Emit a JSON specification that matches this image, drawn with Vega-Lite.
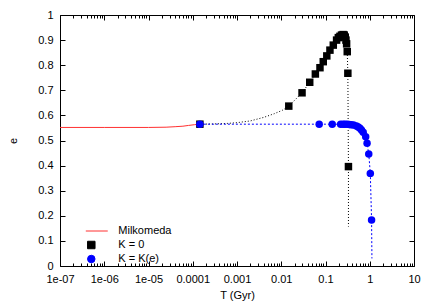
{
  "$schema": "https://vega.github.io/schema/vega-lite/v6.json",
  "width": 354,
  "height": 251,
  "autosize": {"type": "none"},
  "padding": {"left": 60, "top": 15, "right": 22, "bottom": 39},
  "config": {
    "font": "Liberation Sans",
    "view": {"stroke": "#000", "strokeWidth": 1},
    "axis": {"domain": false, "grid": false, "labelFont": "Liberation Sans", "labelFontSize": 11, "labelColor": "#000", "tickColor": "#000", "tickWidth": 1, "titleFont": "Liberation Sans", "titleFontSize": 11, "titleFontWeight": "normal", "titleColor": "#000"},
    "legend": {"labelFont": "Liberation Sans", "labelFontSize": 11, "labelColor": "#000", "symbolSize": 56, "symbolStrokeWidth": 1, "symbolOffset": 0, "labelOffset": 21.5, "clipHeight": 11, "rowPadding": 2, "padding": 0, "titlePadding": 0}
  },
  "resolve": {"axis": {"x": "independent", "y": "independent"}},
  "datasets": {
    "milk": [
      {"T": 1e-7, "e": 0.552, "series": "Milkomeda"},
      {"T": 1e-6, "e": 0.552, "series": "Milkomeda"},
      {"T": 1e-5, "e": 0.552, "series": "Milkomeda"},
      {"T": 2.5e-5, "e": 0.553, "series": "Milkomeda"},
      {"T": 4e-5, "e": 0.555, "series": "Milkomeda"},
      {"T": 6e-5, "e": 0.557, "series": "Milkomeda"},
      {"T": 8e-5, "e": 0.56, "series": "Milkomeda"},
      {"T": 1.1e-4, "e": 0.563, "series": "Milkomeda"},
      {"T": 1.45e-4, "e": 0.565, "series": "Milkomeda"}
    ],
    "k0line": [
      {"T": 1.45e-4, "e": 0.565, "series": "K = 0"},
      {"T": 3e-4, "e": 0.566, "series": "K = 0"},
      {"T": 6e-4, "e": 0.568, "series": "K = 0"},
      {"T": 1e-3, "e": 0.571, "series": "K = 0"},
      {"T": 2e-3, "e": 0.578, "series": "K = 0"},
      {"T": 4e-3, "e": 0.592, "series": "K = 0"},
      {"T": 7e-3, "e": 0.607, "series": "K = 0"},
      {"T": 0.0105, "e": 0.62, "series": "K = 0"},
      {"T": 0.0148, "e": 0.637, "series": "K = 0"},
      {"T": 0.0295, "e": 0.69, "series": "K = 0"},
      {"T": 0.044, "e": 0.732, "series": "K = 0"},
      {"T": 0.059, "e": 0.765, "series": "K = 0"},
      {"T": 0.075, "e": 0.79, "series": "K = 0"},
      {"T": 0.089, "e": 0.814, "series": "K = 0"},
      {"T": 0.107, "e": 0.837, "series": "K = 0"},
      {"T": 0.126, "e": 0.86, "series": "K = 0"},
      {"T": 0.15, "e": 0.88, "series": "K = 0"},
      {"T": 0.178, "e": 0.9, "series": "K = 0"},
      {"T": 0.212, "e": 0.915, "series": "K = 0"},
      {"T": 0.25, "e": 0.922, "series": "K = 0"},
      {"T": 0.28, "e": 0.912, "series": "K = 0"},
      {"T": 0.3, "e": 0.885, "series": "K = 0"},
      {"T": 0.31, "e": 0.854, "series": "K = 0"},
      {"T": 0.32, "e": 0.768, "series": "K = 0"},
      {"T": 0.33, "e": 0.396, "series": "K = 0"},
      {"T": 0.33, "e": 0.157, "series": "K = 0"}
    ],
    "keline": [
      {"T": 1.45e-4, "e": 0.565, "series": "K = K(e)"},
      {"T": 0.072, "e": 0.565, "series": "K = K(e)"},
      {"T": 0.142, "e": 0.565, "series": "K = K(e)"},
      {"T": 0.22, "e": 0.565, "series": "K = K(e)"},
      {"T": 0.276, "e": 0.565, "series": "K = K(e)"},
      {"T": 0.345, "e": 0.564, "series": "K = K(e)"},
      {"T": 0.43, "e": 0.562, "series": "K = K(e)"},
      {"T": 0.5, "e": 0.558, "series": "K = K(e)"},
      {"T": 0.6, "e": 0.549, "series": "K = K(e)"},
      {"T": 0.71, "e": 0.533, "series": "K = K(e)"},
      {"T": 0.81, "e": 0.515, "series": "K = K(e)"},
      {"T": 0.87, "e": 0.489, "series": "K = K(e)"},
      {"T": 0.95, "e": 0.446, "series": "K = K(e)"},
      {"T": 1.03, "e": 0.369, "series": "K = K(e)"},
      {"T": 1.1, "e": 0.183, "series": "K = K(e)"},
      {"T": 1.12, "e": 0.03, "series": "K = K(e)"}
    ],
    "pts": [
      {"T": 1.45e-4, "e": 0.565, "series": "K = 0"},
      {"T": 0.0148, "e": 0.637, "series": "K = 0"},
      {"T": 0.0295, "e": 0.69, "series": "K = 0"},
      {"T": 0.044, "e": 0.732, "series": "K = 0"},
      {"T": 0.059, "e": 0.765, "series": "K = 0"},
      {"T": 0.075, "e": 0.79, "series": "K = 0"},
      {"T": 0.089, "e": 0.814, "series": "K = 0"},
      {"T": 0.107, "e": 0.837, "series": "K = 0"},
      {"T": 0.126, "e": 0.86, "series": "K = 0"},
      {"T": 0.15, "e": 0.88, "series": "K = 0"},
      {"T": 0.178, "e": 0.9, "series": "K = 0"},
      {"T": 0.195, "e": 0.91, "series": "K = 0"},
      {"T": 0.212, "e": 0.915, "series": "K = 0"},
      {"T": 0.23, "e": 0.92, "series": "K = 0"},
      {"T": 0.25, "e": 0.922, "series": "K = 0"},
      {"T": 0.265, "e": 0.92, "series": "K = 0"},
      {"T": 0.28, "e": 0.912, "series": "K = 0"},
      {"T": 0.29, "e": 0.9, "series": "K = 0"},
      {"T": 0.3, "e": 0.885, "series": "K = 0"},
      {"T": 0.31, "e": 0.854, "series": "K = 0"},
      {"T": 0.32, "e": 0.768, "series": "K = 0"},
      {"T": 0.33, "e": 0.396, "series": "K = 0"},
      {"T": 1.45e-4, "e": 0.565, "series": "K = K(e)"},
      {"T": 0.072, "e": 0.565, "series": "K = K(e)"},
      {"T": 0.142, "e": 0.565, "series": "K = K(e)"},
      {"T": 0.22, "e": 0.565, "series": "K = K(e)"},
      {"T": 0.25, "e": 0.565, "series": "K = K(e)"},
      {"T": 0.276, "e": 0.565, "series": "K = K(e)"},
      {"T": 0.31, "e": 0.565, "series": "K = K(e)"},
      {"T": 0.345, "e": 0.564, "series": "K = K(e)"},
      {"T": 0.38, "e": 0.563, "series": "K = K(e)"},
      {"T": 0.43, "e": 0.562, "series": "K = K(e)"},
      {"T": 0.5, "e": 0.558, "series": "K = K(e)"},
      {"T": 0.55, "e": 0.554, "series": "K = K(e)"},
      {"T": 0.6, "e": 0.549, "series": "K = K(e)"},
      {"T": 0.65, "e": 0.542, "series": "K = K(e)"},
      {"T": 0.71, "e": 0.533, "series": "K = K(e)"},
      {"T": 0.81, "e": 0.515, "series": "K = K(e)"},
      {"T": 0.87, "e": 0.489, "series": "K = K(e)"},
      {"T": 0.95, "e": 0.446, "series": "K = K(e)"},
      {"T": 1.03, "e": 0.369, "series": "K = K(e)"},
      {"T": 1.1, "e": 0.183, "series": "K = K(e)"}
    ]
  },
  "layer": [
    {
      "data": {"name": "milk"},
      "mark": {"type": "line", "strokeWidth": 1},
      "encoding": {
        "x": {"field": "T", "type": "quantitative", "scale": {"type": "log", "domain": [1e-7, 10], "nice": false},
          "axis": {"orient": "bottom", "values": [1e-7, 1e-6, 1e-5, 1e-4, 1e-3, 0.01, 0.1, 1, 10], "tickSize": -5, "labelPadding": 12, "labelFlush": false, "labelOverlap": false, "labelExpr": "datum.value < 5e-5 ? replace(format(datum.value, '.0e'), 'e-', 'e-0') : format(datum.value, '~g')", "title": "T (Gyr)", "titlePadding": 5}},
        "y": {"field": "e", "type": "quantitative", "scale": {"domain": [0, 1], "nice": false},
          "axis": {"orient": "left", "values": [0, 0.1, 0.2, 0.3, 0.4, 0.5, 0.6, 0.7, 0.8, 0.9, 1], "format": "~g", "tickSize": -5, "labelPadding": 12, "labelFlush": false, "labelOverlap": false, "title": "e", "titlePadding": 19}},
        "color": {"field": "series", "type": "nominal", "scale": {"domain": ["Milkomeda", "K = 0", "K = K(e)"], "range": ["#ff3030", "#000000", "#0000ff"]},
          "legend": {"orient": "none", "legendX": 25.8, "legendY": 210.5, "title": null}}
      }
    },
    {
      "data": {"name": "k0line"},
      "mark": {"type": "line", "strokeWidth": 1, "strokeDash": [1, 2]},
      "encoding": {
        "x": {"field": "T", "type": "quantitative", "scale": {"type": "log", "domain": [1e-7, 10], "nice": false},
          "axis": {"orient": "bottom", "values": [2e-7, 3e-7, 4e-7, 5e-7, 6e-7, 7e-7, 8e-7, 9e-7, 2e-6, 3e-6, 4e-6, 5e-6, 6e-6, 7e-6, 8e-6, 9e-6, 2e-5, 3e-5, 4e-5, 5e-5, 6e-5, 7e-5, 8e-5, 9e-5, 2e-4, 3e-4, 4e-4, 5e-4, 6e-4, 7e-4, 8e-4, 9e-4, 2e-3, 3e-3, 4e-3, 5e-3, 6e-3, 7e-3, 8e-3, 9e-3, 0.02, 0.03, 0.04, 0.05, 0.06, 0.07, 0.08, 0.09, 0.2, 0.3, 0.4, 0.5, 0.6, 0.7, 0.8, 0.9, 2, 3, 4, 5, 6, 7, 8, 9], "tickSize": -3, "labels": false, "title": null}},
        "y": {"field": "e", "type": "quantitative", "scale": {"domain": [0, 1], "nice": false},
          "axis": {"orient": "right", "values": [0, 0.1, 0.2, 0.3, 0.4, 0.5, 0.6, 0.7, 0.8, 0.9, 1], "tickSize": -5, "labels": false, "title": null}},
        "color": {"field": "series", "type": "nominal", "legend": {"orient": "none", "legendX": 25.8, "legendY": 210.5, "title": null}},
        "order": {"value": null}
      }
    },
    {
      "data": {"name": "keline"},
      "mark": {"type": "line", "strokeWidth": 1, "strokeDash": [2, 2]},
      "encoding": {
        "x": {"field": "T", "type": "quantitative", "scale": {"type": "log", "domain": [1e-7, 10], "nice": false},
          "axis": {"orient": "top", "values": [1e-7, 1e-6, 1e-5, 1e-4, 1e-3, 0.01, 0.1, 1, 10], "tickSize": -5, "labels": false, "title": null}},
        "y": {"field": "e", "type": "quantitative", "scale": {"domain": [0, 1], "nice": false}, "axis": null},
        "color": {"field": "series", "type": "nominal", "legend": {"orient": "none", "legendX": 25.8, "legendY": 210.5, "title": null}},
        "order": {"value": null}
      }
    },
    {
      "data": {"name": "pts"},
      "mark": {"type": "point", "filled": true, "opacity": 1, "size": 56},
      "encoding": {
        "x": {"field": "T", "type": "quantitative", "scale": {"type": "log", "domain": [1e-7, 10], "nice": false},
          "axis": {"orient": "top", "values": [2e-7, 3e-7, 4e-7, 5e-7, 6e-7, 7e-7, 8e-7, 9e-7, 2e-6, 3e-6, 4e-6, 5e-6, 6e-6, 7e-6, 8e-6, 9e-6, 2e-5, 3e-5, 4e-5, 5e-5, 6e-5, 7e-5, 8e-5, 9e-5, 2e-4, 3e-4, 4e-4, 5e-4, 6e-4, 7e-4, 8e-4, 9e-4, 2e-3, 3e-3, 4e-3, 5e-3, 6e-3, 7e-3, 8e-3, 9e-3, 0.02, 0.03, 0.04, 0.05, 0.06, 0.07, 0.08, 0.09, 0.2, 0.3, 0.4, 0.5, 0.6, 0.7, 0.8, 0.9, 2, 3, 4, 5, 6, 7, 8, 9], "tickSize": -3, "labels": false, "title": null}},
        "y": {"field": "e", "type": "quantitative", "scale": {"domain": [0, 1], "nice": false}, "axis": null},
        "color": {"field": "series", "type": "nominal", "legend": {"orient": "none", "legendX": 25.8, "legendY": 210.5, "title": null}},
        "shape": {"field": "series", "type": "nominal", "scale": {"domain": ["Milkomeda", "K = 0", "K = K(e)"], "range": ["M-4.4,0H4.4", "square", "circle"]}, "legend": {"orient": "none", "legendX": 25.8, "legendY": 210.5, "title": null}}
      }
    }
  ]
}
